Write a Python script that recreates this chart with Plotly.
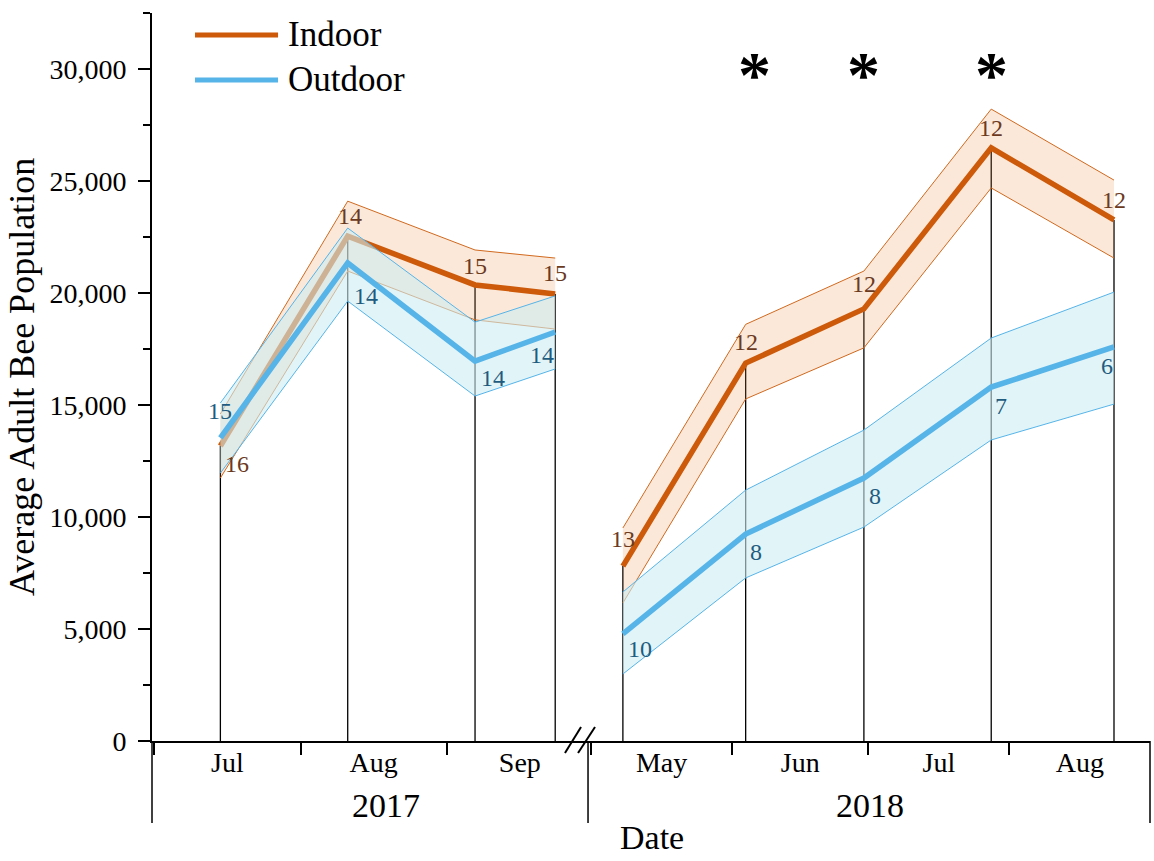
import plotly.graph_objects as go

FONT = "Liberation Serif"

# ---- 2017 season (survey dates, colony means and mean ± SE bounds) ----
dates_2017 = ["2017-07-15", "2017-08-11", "2017-09-07", "2017-09-24"]
indoor_2017 = [13170, 22540, 20360, 19960]
indoor_2017_hi = [14600, 24100, 21920, 21560]
indoor_2017_lo = [11740, 20980, 18800, 18390]
indoor_2017_n = [16, 14, 15, 15]
outdoor_2017 = [13530, 21340, 16960, 18260]
outdoor_2017_hi = [15090, 22900, 18700, 19870]
outdoor_2017_lo = [11960, 19640, 15400, 16610]
outdoor_2017_n = [15, 14, 14, 14]

# ---- 2018 season ----
dates_2018 = ["2018-05-08", "2018-06-04", "2018-06-30", "2018-07-28", "2018-08-24"]
indoor_2018 = [7810, 16870, 19290, 26480, 23260]
indoor_2018_hi = [9510, 18600, 20980, 28210, 25040]
indoor_2018_lo = [6160, 15270, 17550, 24690, 21560]
indoor_2018_n = [13, 12, 12, 12, 12]
outdoor_2018 = [4780, 9240, 11740, 15800, 17590]
outdoor_2018_hi = [6650, 11200, 13880, 17990, 20040]
outdoor_2018_lo = [2990, 7280, 9550, 13440, 15040]
outdoor_2018_n = [10, 8, 8, 7, 6]

# dates with a significant indoor/outdoor difference
significant_dates = ["2018-06-06", "2018-06-30", "2018-07-28"]
significance_mark = "*"

series_names = ["Indoor", "Outdoor"]
year_labels = ["2017", "2018"]

# ---- styling ----
IN_LINE = "#CC5A0A"
IN_EDGE = "#D0691F"
IN_FILL = "rgba(240,140,60,0.2)"
IN_TEXT = "#6B3A1E"
OUT_LINE = "#56B4E9"
OUT_EDGE = "#56B4E9"
OUT_FILL = "rgba(205,236,242,0.6)"
OUT_TEXT = "#1F5C80"

# label offsets (px) for the sample-size annotations
in_off_2017 = [(17, -18), (2, 20), (0, 19), (0, 21)]
out_off_2017 = [(0, 27), (18, -33), (18, -17), (-13, -23)]
in_off_2018 = [(0, 27), (0, 21), (0, 25), (0, 20), (0, 20)]
out_off_2018 = [(17, -15), (10, -18), (11, -18), (10, -19), (-7, -19)]

fig = go.Figure()


def add_season(dates, in_m, in_hi, in_lo, out_m, out_hi, out_lo, xa):
    # vertical drop lines from the indoor mean to zero
    dx, dy = [], []
    for d, v in zip(dates, in_m):
        dx += [d, d, None]
        dy += [0, v, None]
    fig.add_trace(go.Scatter(x=dx, y=dy, mode="lines", xaxis=xa, yaxis="y",
                             line=dict(color="black", width=1.3),
                             hoverinfo="skip", showlegend=False))
    for m, hi, lo, fill, edge, line in [
        (in_m, in_hi, in_lo, IN_FILL, IN_EDGE, IN_LINE),
        (out_m, out_hi, out_lo, OUT_FILL, OUT_EDGE, OUT_LINE),
    ]:
        fig.add_trace(go.Scatter(x=dates + dates[::-1], y=hi + lo[::-1],
                                 fill="toself", fillcolor=fill, mode="lines",
                                 line=dict(width=0), xaxis=xa, yaxis="y",
                                 hoverinfo="skip", showlegend=False))
        for b in (hi, lo):
            fig.add_trace(go.Scatter(x=dates, y=b, mode="lines", xaxis=xa, yaxis="y",
                                     line=dict(color=edge, width=1),
                                     hoverinfo="skip", showlegend=False))
        fig.add_trace(go.Scatter(x=dates, y=m, mode="lines", xaxis=xa, yaxis="y",
                                 line=dict(color=line, width=5.5),
                                 showlegend=False))


add_season(dates_2017, indoor_2017, indoor_2017_hi, indoor_2017_lo,
           outdoor_2017, outdoor_2017_hi, outdoor_2017_lo, "x")
add_season(dates_2018, indoor_2018, indoor_2018_hi, indoor_2018_lo,
           outdoor_2018, outdoor_2018_hi, outdoor_2018_lo, "x2")

annotations = []


def add_counts(dates, vals, counts, offs, color, xref):
    for d, v, n, (ox, oy) in zip(dates, vals, counts, offs):
        annotations.append(dict(x=d, y=v, xref=xref, yref="y", text=str(n),
                                showarrow=False, xshift=ox, yshift=oy,
                                xanchor="center", yanchor="middle",
                                font=dict(family=FONT, size=24, color=color)))


add_counts(dates_2017, indoor_2017, indoor_2017_n, in_off_2017, IN_TEXT, "x")
add_counts(dates_2017, outdoor_2017, outdoor_2017_n, out_off_2017, OUT_TEXT, "x")
add_counts(dates_2018, indoor_2018, indoor_2018_n, in_off_2018, IN_TEXT, "x2")
add_counts(dates_2018, outdoor_2018, outdoor_2018_n, out_off_2018, OUT_TEXT, "x2")

for d in significant_dates:
    annotations.append(dict(x=d, y=29950, xref="x2", yref="y",
                            text="<b>%s</b>" % significance_mark,
                            showarrow=False, xanchor="center", yanchor="middle",
                            yshift=-4,
                            font=dict(family=FONT, size=66, color="black")))

# year labels and x title
annotations.append(dict(x=0.2345, y=-0.088, xref="paper", yref="paper", text=year_labels[0],
                        showarrow=False, xanchor="center", yanchor="middle",
                        font=dict(family=FONT, size=34, color="black")))
annotations.append(dict(x=0.7194, y=-0.088, xref="paper", yref="paper", text=year_labels[1],
                        showarrow=False, xanchor="center", yanchor="middle",
                        font=dict(family=FONT, size=34, color="black")))
annotations.append(dict(x=0.501, y=-0.133, xref="paper", yref="paper", text="Date",
                        showarrow=False, xanchor="center", yanchor="middle",
                        font=dict(family=FONT, size=34, color="black")))

# legend text
for name, yy in zip(series_names, [0.9698, 0.908]):
    annotations.append(dict(x=0.1343, y=yy, xref="paper", yref="paper", text=name,
                            showarrow=False, xanchor="left", yanchor="middle",
                            font=dict(family=FONT, size=35, color="black")))

shapes = []
# legend line samples
for col, yy in zip([IN_LINE, OUT_LINE], [0.9698, 0.908]):
    shapes.append(dict(type="line", xref="paper", yref="paper", x0=0.0431, x1=0.1263,
                       y0=yy, y1=yy, line=dict(color=col, width=5)))
# season dividers below the axis
for xx in [0, 0.4369, 1]:
    shapes.append(dict(type="line", xref="paper", yref="paper", x0=xx, x1=xx,
                       y0=0, y1=-0.1126, line=dict(color="black", width=1.5)))
# axis break marks
for x0, x1 in [(0.4138, 0.4299), (0.4269, 0.4439)]:
    shapes.append(dict(type="line", xref="paper", yref="paper", x0=x0, x1=x1,
                       y0=-0.0165, y1=0.0192, line=dict(color="black", width=2)))

xcommon = dict(type="date", dtick="M1", tickformat="%b", ticklabelmode="period",
               ticks="outside", ticklen=12, tickwidth=1.5, tickcolor="black",
               ticklabelstandoff=-17,
               showline=True, linewidth=2, linecolor="black", showgrid=False,
               zeroline=False, anchor="y",
               tickfont=dict(family=FONT, size=28, color="black"))

fig.update_layout(
    width=1154, height=861,
    margin=dict(l=152, r=4, t=13, b=120),
    paper_bgcolor="white", plot_bgcolor="white",
    showlegend=False,
    xaxis=dict(domain=[0, 0.4369], range=["2017-06-30 12:00", "2017-09-30 23:00"],
               tick0="2017-07-01", **xcommon),
    xaxis2=dict(domain=[0.4369, 1], range=["2018-04-30 08:00", "2018-08-31 22:00"],
                tick0="2018-05-01", **xcommon),
    yaxis=dict(range=[0, 32500], dtick=5000, tickformat=",d",
               ticks="outside", ticklen=12, tickwidth=2, tickcolor="black",
               ticklabelstandoff=6,
               minor=dict(dtick=2500, ticks="outside", ticklen=7, tickwidth=2,
                          tickcolor="black"),
               showline=True, linewidth=2, linecolor="black", showgrid=False,
               zeroline=False,
               tickfont=dict(family=FONT, size=28, color="black"),
               title=dict(text="Average Adult Bee Population", standoff=4,
                          font=dict(family=FONT, size=36, color="black"))),
    annotations=annotations,
    shapes=shapes,
)

fig.write_html("out.html")
